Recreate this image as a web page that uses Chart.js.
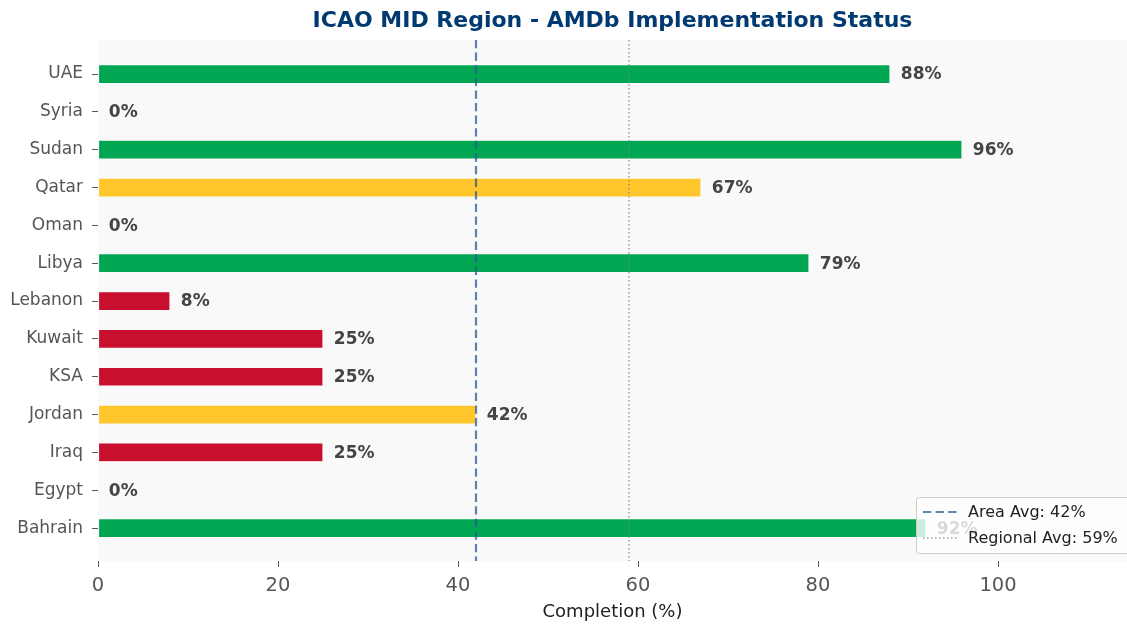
<!DOCTYPE html>
<html>
<head>
<meta charset="utf-8">
<script src="https://cdn.jsdelivr.net/npm/chart.js@4"></script>
<style>
  html, body { margin: 0; padding: 0; background: #ffffff; font-family: "DejaVu Sans"; }
  #wrap { width: 1127px; height: 627px; }
</style>
</head>
<body>
<div id="wrap"><canvas id="myChart" width="1127" height="627"></canvas></div>
<script>
"use strict";

// bottom to top, as in the picture
const states = ["Bahrain", "Egypt", "Iraq", "Jordan", "KSA", "Kuwait", "Lebanon", "Libya", "Oman", "Qatar", "Sudan", "Syria", "UAE"];
const completion = [92, 0, 25, 42, 25, 25, 8, 79, 0, 67, 96, 0, 88];
const xTicks = [0, 20, 40, 60, 80, 100];
const areaAvg = 42;
const regionalAvg = 59;

const FONT = "DejaVu Sans, Verdana, sans-serif";
const AREA_LINE = "rgba(40,90,145,0.75)";
const REGION_LINE = "rgba(128,128,128,0.75)";

function barColor(v) {
    if (v >= 75) return "#00a651";
    if (v >= 40) return "#ffc72c";
    return "#c8102e";
}

let extras = {
    id: "extras",
    beforeDraw: function (chart) {
        let a = chart.chartArea;
        let ctx = chart.ctx;
        ctx.save();
        ctx.fillStyle = "#f9f9f9";
        ctx.fillRect(a.left, a.top, a.right - a.left, a.bottom - a.top);
        ctx.restore();
    },
    afterDatasetsDraw: function (chart) {
        let ctx = chart.ctx;
        let a = chart.chartArea;
        let x = chart.scales.x;
        let y = chart.scales.y;
        ctx.save();

        // value labels
        ctx.font = "bold 17px " + FONT;
        ctx.fillStyle = "#444444";
        ctx.textAlign = "left";
        ctx.textBaseline = "middle";
        for (let i = 0; i < states.length; i++) {
            ctx.fillText(completion[i] + "%", x.getPixelForValue(completion[i] + 1.2), y.getPixelForValue(i) + 1);
        }

        // average lines
        let xa = x.getPixelForValue(areaAvg);
        ctx.strokeStyle = AREA_LINE;
        ctx.lineWidth = 2.2;
        ctx.setLineDash([8.3, 4.3]);
        ctx.beginPath();
        ctx.moveTo(xa, a.top);
        ctx.lineTo(xa, a.bottom);
        ctx.stroke();

        let xr = x.getPixelForValue(regionalAvg);
        ctx.strokeStyle = REGION_LINE;
        ctx.lineWidth = 1.5;
        ctx.setLineDash([1.5, 2.5]);
        ctx.beginPath();
        ctx.moveTo(xr, a.top);
        ctx.lineTo(xr, a.bottom);
        ctx.stroke();
        ctx.setLineDash([]);

        // legend box, lower right inside the plot
        let lx = 916, ly = 497, lw = 220, lh = 56;
        ctx.fillStyle = "rgba(255,255,255,0.8)";
        ctx.strokeStyle = "#cccccc";
        ctx.lineWidth = 1;
        ctx.beginPath();
        ctx.roundRect(lx + 0.5, ly + 0.5, lw, lh, 3);
        ctx.fill();
        ctx.stroke();

        ctx.strokeStyle = AREA_LINE;
        ctx.lineWidth = 2.2;
        ctx.setLineDash([8.3, 4.3]);
        ctx.beginPath();
        ctx.moveTo(lx + 7, ly + 15);
        ctx.lineTo(lx + 41, ly + 15);
        ctx.stroke();

        ctx.strokeStyle = REGION_LINE;
        ctx.lineWidth = 1.5;
        ctx.setLineDash([1.5, 2.5]);
        ctx.beginPath();
        ctx.moveTo(lx + 7, ly + 41);
        ctx.lineTo(lx + 41, ly + 41);
        ctx.stroke();
        ctx.setLineDash([]);

        ctx.font = "16px " + FONT;
        ctx.fillStyle = "#222222";
        ctx.fillText("Area Avg: " + areaAvg + "%", lx + 52, ly + 16);
        ctx.fillText("Regional Avg: " + regionalAvg + "%", lx + 52, ly + 42);
        ctx.restore();
    }
};

let myChart = new Chart(document.getElementById("myChart"), {
    type: "bar",
    data: {
        datasets: [{
            data: states.map(function (s, i) { return { x: completion[i], y: i }; }),
            backgroundColor: completion.map(barColor),
            borderColor: "rgba(255,255,255,0.6)",
            borderWidth: 0.6,
            borderSkipped: false,
            categoryPercentage: 1,
            barPercentage: 0.5
        }]
    },
    options: {
        indexAxis: "y",
        responsive: false,
        animation: false,
        layout: { padding: { left: 0, right: 0, top: 0, bottom: 0 } },
        plugins: {
            legend: { display: false },
            tooltip: { enabled: false },
            title: {
                display: true,
                fullSize: false,
                text: "ICAO MID Region - AMDb Implementation Status",
                color: "#003a70",
                font: { family: FONT, size: 22, weight: "bold" },
                padding: { top: 8, bottom: 5.6 }
            }
        },
        scales: {
            x: {
                type: "linear",
                min: 0,
                max: 114.33,
                afterBuildTicks: function (scale) {
                    scale.ticks = xTicks.map(function (v) { return { value: v }; });
                },
                afterFit: function (scale) { scale.height = 66; },
                ticks: { color: "#555555", font: { family: FONT, size: 19.5 }, padding: 7 },
                grid: { drawOnChartArea: false, drawTicks: true, tickLength: 6, color: "#555555", lineWidth: 1 },
                border: { display: false },
                title: {
                    display: true,
                    text: "Completion (%)",
                    color: "#222222",
                    font: { family: FONT, size: 18 },
                    padding: { top: 0, bottom: 4 }
                }
            },
            y: {
                type: "linear",
                offset: false,
                min: -0.87,
                max: 12.9,
                afterBuildTicks: function (scale) {
                    scale.ticks = states.map(function (s, i) { return { value: i }; });
                },
                afterFit: function (scale) { scale.width = 98; },
                ticks: {
                    color: "#555555",
                    font: { family: FONT, size: 17 },
                    padding: 9,
                    callback: function (v) { return states[v]; }
                },
                grid: { offset: false, drawOnChartArea: false, drawTicks: true, tickLength: 6, color: "#555555", lineWidth: 1 },
                border: { display: false }
            }
        }
    },
    plugins: [extras]
});
</script>
</body>
</html>
